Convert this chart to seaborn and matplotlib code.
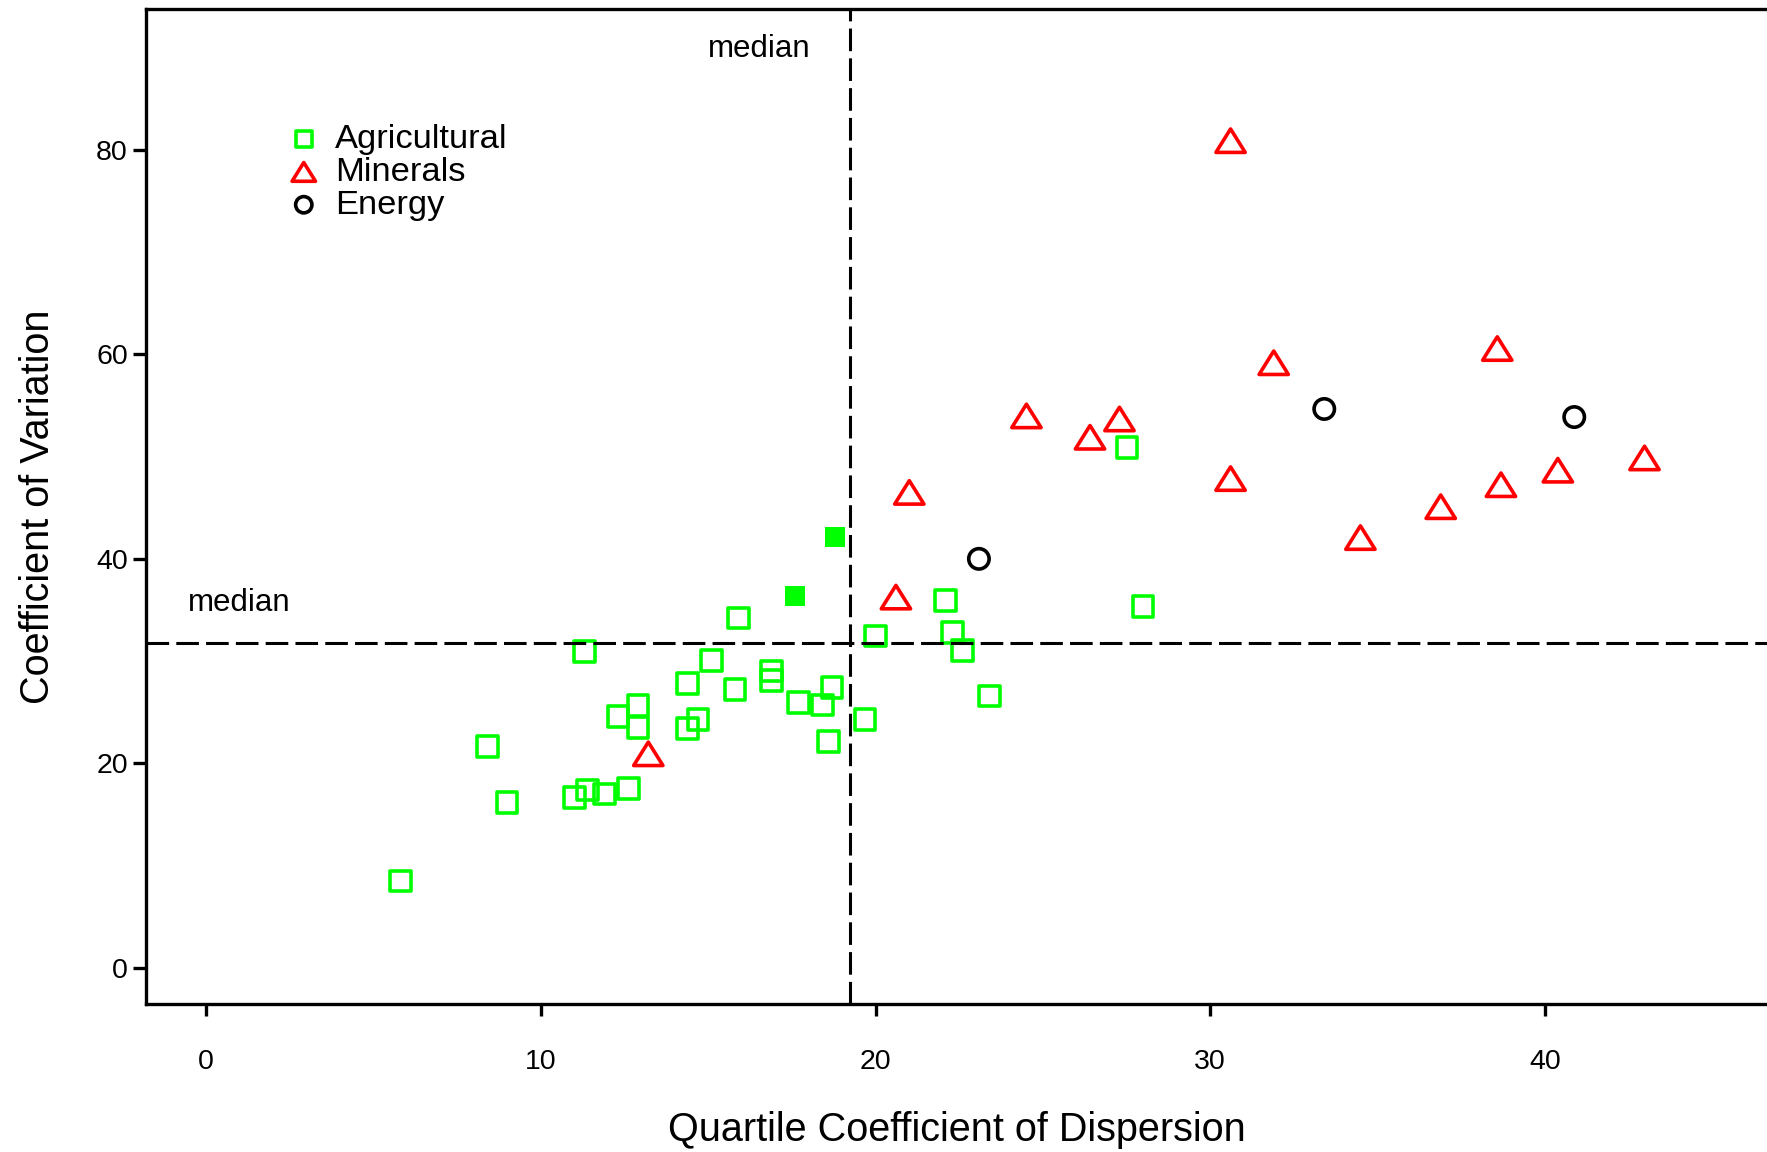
import matplotlib
matplotlib.use('Agg')
import matplotlib.pyplot as plt
from matplotlib.path import Path
import seaborn as sns

# agricultural commodities (open squares)
agri_x = [5.80, 8.40, 8.99, 11.01, 11.39, 11.90, 12.61, 11.30, 12.30, 12.90,
          12.90, 14.39, 14.39, 14.70, 15.09, 15.90, 15.80, 16.90, 16.90, 17.70,
          18.41, 18.70, 18.59, 19.69, 20.00, 22.10, 22.30, 22.60, 23.41, 27.51,
          27.99]
agri_y = [8.50, 21.67, 16.14, 16.67, 17.40, 16.99, 17.56, 30.93, 24.59, 25.65,
          23.50, 27.80, 23.41, 24.27, 30.04, 34.23, 27.20, 29.02, 28.13, 25.93,
          25.69, 27.40, 22.11, 24.27, 32.44, 35.93, 32.80, 31.06, 26.59, 50.88,
          35.33]
# two highlighted agricultural points (filled squares)
agri_hi_x = [17.60, 18.80]
agri_hi_y = [36.34, 42.10]

# minerals (triangles)
min_x = [13.21, 20.61, 21.01, 24.51, 26.41, 27.29, 30.61, 30.61, 31.90, 34.49,
         36.89, 38.58, 38.69, 40.39, 42.98]
min_y = [20.93, 36.26, 46.50, 53.98, 51.89, 53.68, 80.90, 47.85, 59.18, 42.08,
         45.10, 60.57, 47.25, 48.67, 49.87]

# energy (circles)
energy_x = [23.09, 33.41, 40.88]
energy_y = [40.00, 54.66, 53.87]

median_x = 19.25
median_y = 31.79

sns.set_style('ticks')
plt.rcParams['font.family'] = ['Liberation Sans', 'DejaVu Sans']
plt.rcParams['text.color'] = 'black'
plt.rcParams['axes.labelcolor'] = 'black'
plt.rcParams['xtick.color'] = 'black'
plt.rcParams['ytick.color'] = 'black'
plt.rcParams['axes.edgecolor'] = 'black'

fig = plt.figure(figsize=(17.67, 11.52), dpi=100)
ax = fig.add_axes([146 / 1767, 148 / 1152, 1621 / 1767, 995 / 1152])

# wide, squat triangle like the original
tri = Path([(-1, -0.8), (1, -0.8), (0, 0.8), (-1, -0.8)], closed=True)

sns.scatterplot(x=agri_x, y=agri_y, marker='s', s=220, facecolor='none',
                edgecolor='#00ff00', linewidth=2.6, label='Agricultural', ax=ax)
sns.scatterplot(x=agri_hi_x, y=agri_hi_y, marker='s', s=225, color='#00ff00',
                linewidth=0, ax=ax)
sns.scatterplot(x=min_x, y=min_y, marker=tri, s=445, facecolor='none',
                edgecolor='#ff0000', linewidth=2.6, label='Minerals', ax=ax)
sns.scatterplot(x=energy_x, y=energy_y, marker='o', s=215, facecolor='none',
                edgecolor='black', linewidth=2.6, label='Energy', ax=ax)

dash = (0, (7.4, 2.35))
ax.axvline(median_x, color='black', lw=2.2, ls=dash, zorder=1)
ax.axhline(median_y, color='black', lw=2.2, ls=dash, zorder=1)
ax.text(18.06, 89.07, 'median', ha='right', va='baseline', fontsize=22.5)
ax.text(-0.54, 34.88, 'median', ha='left', va='baseline', fontsize=22.5)

ax.set_xlim(-1.80, 46.64)
ax.set_ylim(-3.54, 93.78)
ax.set_xticks([0, 10, 20, 30, 40])
ax.set_yticks([0, 20, 40, 60, 80])
ax.tick_params(axis='x', length=8.4, width=2.4, pad=24, labelsize=20.5)
ax.tick_params(axis='y', length=9.5, width=2.4, pad=3.5, labelsize=20.5)
for side in ['left', 'bottom', 'top']:
    ax.spines[side].set_linewidth(2.4)
ax.spines['right'].set_visible(False)

ax.set_xlabel('Quartile Coefficient of Dispersion', fontsize=28.5)
ax.set_ylabel('Coefficient of Variation', fontsize=28.5)
ax.xaxis.set_label_coords(0.5, -0.108)
ax.yaxis.set_label_coords(-0.0548, 0.5)

ax.legend(loc='upper left', bbox_to_anchor=(290 / 1767, 1 - 124 / 1152),
          bbox_transform=fig.transFigure, frameon=False, fontsize=24.8,
          markerscale=0.8, handlelength=0.8, handletextpad=0.5,
          labelspacing=0.05, borderpad=0, borderaxespad=0)

fig.savefig('out.png', dpi=100)
